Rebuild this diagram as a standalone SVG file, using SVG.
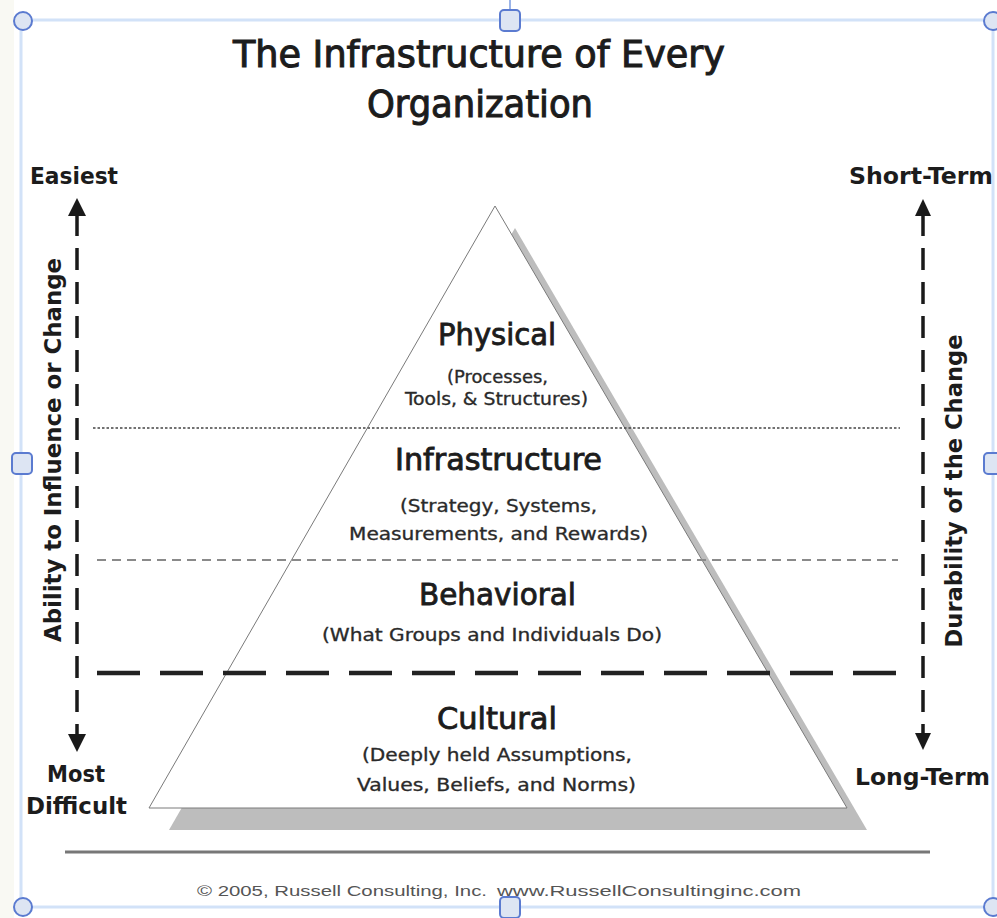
<svg xmlns="http://www.w3.org/2000/svg" width="997" height="918" viewBox="0 0 997 918">
<defs>
<style>
.t{font-family:"DejaVu Sans Condensed","DejaVu Sans",Tahoma,sans-serif;fill:#1c1c1c}
.title{font-size:38px;stroke:#1c1c1c;stroke-width:1}
.side{font-size:23px;font-weight:bold}
.head{font-size:30px;stroke:#1c1c1c;stroke-width:0.8}
.sub{font-size:17px;fill:#2a2a2a;stroke:#2a2a2a;stroke-width:0.3}
.foot{font-family:"Liberation Sans",Arial,sans-serif;font-size:15px;fill:#555}
.frame{stroke:#d2e2f8;stroke-width:3;fill:none}
.hc{fill:#dde5f3;stroke:#5b7bd0;stroke-width:2}
.arrow{stroke:#1a1a1a;stroke-width:3.5;stroke-dasharray:22 12;fill:none}
</style>
</defs>
<rect x="0" y="0" width="997" height="918" fill="#ffffff"/>
<rect x="0" y="0" width="14" height="918" fill="#f9f9f3"/>

<g id="selection-frame">
<rect class="frame" x="21" y="20" width="972" height="887"/>
<line x1="510" y1="0" x2="510" y2="12" stroke="#9bb4e8" stroke-width="2"/>
<circle class="hc" cx="23" cy="21" r="9"/>
<circle class="hc" cx="993" cy="21" r="9"/>
<circle class="hc" cx="23" cy="907" r="9"/>
<circle class="hc" cx="993" cy="907" r="9"/>
<rect class="hc" x="500" y="10" width="20" height="21" rx="4"/>
<rect class="hc" x="500" y="897" width="20" height="21" rx="4"/>
<rect class="hc" x="12" y="453" width="20" height="21" rx="4"/>
<rect class="hc" x="984" y="453" width="20" height="21" rx="4"/>
</g>

<g id="title">
<text class="t title" x="233" y="67" textLength="492" lengthAdjust="spacingAndGlyphs">The Infrastructure of Every</text>
<text class="t title" x="367" y="117" textLength="226" lengthAdjust="spacingAndGlyphs">Organization</text>
</g>

<g id="pyramid">
<polygon points="515,228 169,830 867,830" fill="#bdbdbd"/>
<polygon points="495,206 149,808 847,808" fill="#ffffff" stroke="#7a7a7a" stroke-width="1"/>
</g>

<g id="connectors">
<line x1="93" y1="428" x2="900" y2="428" stroke="#444" stroke-width="1.5" stroke-dasharray="2.5 2"/>
<line x1="97" y1="560" x2="898" y2="560" stroke="#8a8a8a" stroke-width="2" stroke-dasharray="9 6"/>
<line x1="97" y1="673" x2="902" y2="673" stroke="#222" stroke-width="4.5" stroke-dasharray="43 20"/>
<line x1="65" y1="852" x2="930" y2="852" stroke="#777" stroke-width="3"/>
<line class="arrow" x1="77" y1="214" x2="77" y2="737"/>
<polygon points="77,198 68,216 86,216" fill="#1a1a1a"/>
<polygon points="77,752 68,734 86,734" fill="#1a1a1a"/>
<line class="arrow" x1="923" y1="214" x2="923" y2="735"/>
<polygon points="923,199 915,216 931,216" fill="#1a1a1a"/>
<polygon points="923,750 915,733 931,733" fill="#1a1a1a"/>
</g>

<g id="layer-physical">
<text class="t head" x="438" y="345" textLength="118" lengthAdjust="spacingAndGlyphs">Physical</text>
<text class="t sub" x="447" y="383" textLength="101" lengthAdjust="spacingAndGlyphs">(Processes,</text>
<text class="t sub" x="405" y="405" textLength="183" lengthAdjust="spacingAndGlyphs">Tools, &amp; Structures)</text>
</g>
<g id="layer-infrastructure">
<text class="t head" x="395" y="470" textLength="207" lengthAdjust="spacingAndGlyphs">Infrastructure</text>
<text class="t sub" x="400" y="512" textLength="197" lengthAdjust="spacingAndGlyphs">(Strategy, Systems,</text>
<text class="t sub" x="349" y="540" textLength="299" lengthAdjust="spacingAndGlyphs">Measurements, and Rewards)</text>
</g>
<g id="layer-behavioral">
<text class="t head" x="419" y="605" textLength="157" lengthAdjust="spacingAndGlyphs">Behavioral</text>
<text class="t sub" x="322" y="641" textLength="340" lengthAdjust="spacingAndGlyphs">(What Groups and Individuals Do)</text>
</g>
<g id="layer-cultural">
<text class="t head" x="437" y="729" textLength="120" lengthAdjust="spacingAndGlyphs">Cultural</text>
<text class="t sub" x="362" y="761" textLength="270" lengthAdjust="spacingAndGlyphs">(Deeply held Assumptions,</text>
<text class="t sub" x="357" y="791" textLength="279" lengthAdjust="spacingAndGlyphs">Values, Beliefs, and Norms)</text>
</g>

<g id="left-axis">
<text class="t side" x="30" y="184" textLength="88" lengthAdjust="spacingAndGlyphs">Easiest</text>
<text class="t side" x="47" y="782" textLength="58" lengthAdjust="spacingAndGlyphs">Most</text>
<text class="t side" x="26" y="814" textLength="101" lengthAdjust="spacingAndGlyphs">Difficult</text>
<text class="t side" transform="translate(61,450) rotate(-90)" text-anchor="middle" textLength="384" lengthAdjust="spacingAndGlyphs">Ability to Influence or Change</text>
</g>
<g id="right-axis">
<text class="t side" x="849" y="184" textLength="144" lengthAdjust="spacingAndGlyphs">Short-Term</text>
<text class="t side" x="855" y="785" textLength="135" lengthAdjust="spacingAndGlyphs">Long-Term</text>
<text class="t side" transform="translate(962,491) rotate(-90)" text-anchor="middle" textLength="313" lengthAdjust="spacingAndGlyphs">Durability of the Change</text>
</g>

<g id="footer">
<text class="foot" x="197" y="896" textLength="290" lengthAdjust="spacingAndGlyphs">© 2005, Russell Consulting, Inc.</text>
<text class="foot" x="497" y="896" textLength="304" lengthAdjust="spacingAndGlyphs">www.RussellConsultinginc.com</text>
</g>
</svg>
